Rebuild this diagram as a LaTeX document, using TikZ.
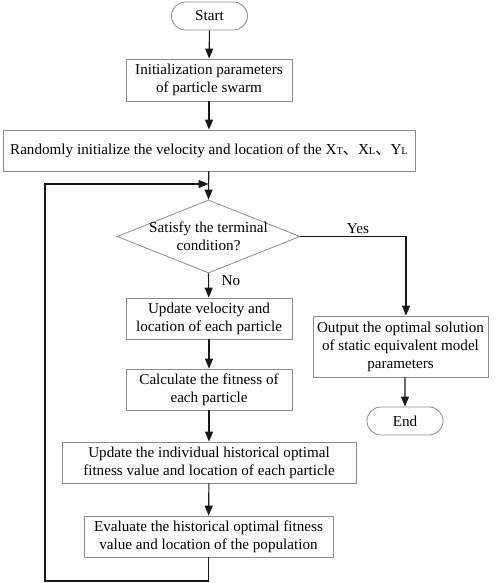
\documentclass[tikz,border=0pt]{standalone}
\usepackage{fontspec}
\setmainfont{Liberation Serif}
\newfontfamily\cjk{Noto Sans CJK SC}
\usetikzlibrary{arrows.meta,shapes.geometric,calc}
\newcommand{\sm}[1]{{\fontsize{10.5}{12}\selectfont #1}}
\begin{document}
\begin{tikzpicture}[x=1bp,y=-1bp,
  font=\fontsize{15.2}{18}\selectfont,
  box/.style={draw=black!45, line width=0.8bp, fill=white, align=center, inner sep=0pt},
  term/.style={box, rounded corners=14bp, minimum width=76bp, minimum height=28bp},
  arr/.style={draw=black!90, line width=1.1bp, -{Triangle[length=10bp,width=8bp]}},
  ln/.style={draw=black!80, line width=1.1bp}]
\useasboundingbox (0,0) rectangle (498,583);
\node[term] (start) at (209.5,16) {Start};
\node[box, minimum width=166bp, minimum height=42bp] (init) at (209,80) {Initialization parameters\\of particle swarm};
\node[box, minimum width=412bp, minimum height=41bp] (rand) at (209,150.5) {Randomly initialize the velocity and location of the X\sm{T}{\cjk 、}X\sm{L}{\cjk 、}Y\sm{L}};
\node[diamond, draw=black!45, line width=0.8bp, inner sep=0pt, minimum width=183bp, minimum height=73bp] (dec) at (208.5,236.5) {};
\node[align=center, inner sep=0pt] (dect) at (dec) {Satisfy the terminal\\condition?};
\node[box, minimum width=166bp, minimum height=41bp] (upd) at (209,318.5) {Update velocity and\\location of each particle};
\node[box, minimum width=166bp, minimum height=41bp] (calc) at (209,389.5) {Calculate the fitness of\\each particle};
\node[box, minimum width=294bp, minimum height=41bp] (ind) at (209,462.5) {Update the individual historical optimal\\fitness value and location of each particle};
\node[box, minimum width=249bp, minimum height=41bp] (eval) at (208.5,536.5) {Evaluate the historical optimal fitness\\value and location of the population};
\node[box, minimum width=175bp, minimum height=61bp] (out) at (400.5,346.5) {Output the optimal solution\\of static equivalent model\\parameters};
\node[term] (end) at (405,421) {End};
\node (yes) at (358,229) {Yes};
\node (no) at (231,281) {No};
\coordinate (lb) at (45,581);
\coordinate (lm) at (208.5,184);
\draw[arr] (start) -- (init);
\draw[arr] (init) -- (rand);
\draw[arr] (rand) -- (dec.north);
\draw[arr] (dec.south) -- (upd);
\draw[arr] (upd) -- (calc);
\draw[arr] (calc) -- (ind);
\draw[arr] (ind) -- (eval);
\draw[arr] (dec.east) -| ([xshift=5.5bp]out.north);
\draw[arr] ([xshift=4.5bp]out.south) -- (end.north);
\draw[arr] (eval.south) |- (lb) |- (lm);
\end{tikzpicture}
\end{document}
